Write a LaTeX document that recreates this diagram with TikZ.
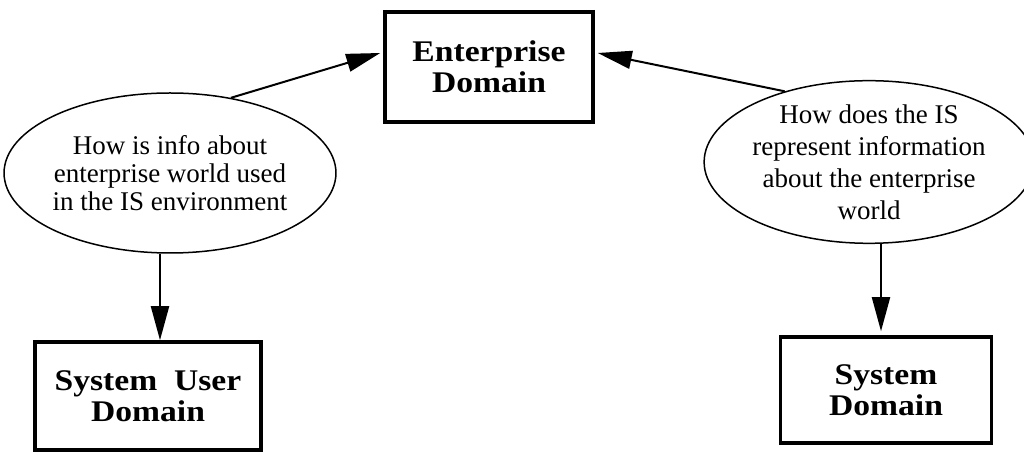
\documentclass[tikz,border=0pt]{standalone}
\usepackage{fontspec}
\setmainfont{Liberation Serif}
\newfontfamily\boxfont[FakeStretch=1.12]{Liberation Serif}
\usetikzlibrary{arrows.meta,shapes.geometric}
\begin{document}
\begin{tikzpicture}[x=1pt,y=1pt,
  dombox/.style={draw,line width=3.5pt,inner sep=0pt,align=center,
    font=\boxfont\bfseries\fontsize{30}{31}\selectfont},
  qell/.style={draw,ellipse,line width=1.5pt,inner sep=0pt,align=center,
    font=\fontsize{27}{28}\selectfont},
  arr/.style={line width=2pt,-{Triangle[length=34pt,width=18pt]}}]
\useasboundingbox (0,0) rectangle (1024,452);
\node[dombox,minimum width=208pt,minimum height=110pt] (ent) at (489,385) {Enterprise\\Domain};
\node[dombox,minimum width=226pt,minimum height=108pt] (su) at (148,56) {System\ \ User\\Domain};
\node[dombox,minimum width=211pt,minimum height=106pt] (sd) at (886,62) {System\\Domain};
\node[qell,minimum width=320pt,minimum height=160pt] (le) at (170,279)
  {How is info about\\enterprise world used\\in the IS environment};
\node[qell,minimum width=310pt,minimum height=160pt,font=\fontsize{27}{32}\selectfont] (re) at (869,290)
  {How does the IS\\represent information\\about the enterprise\\world};
\draw[arr] (le.51) -- ([yshift=14pt,xshift=-3pt]ent.west);
\draw[arr] (re.140) -- ([yshift=14pt,xshift=3pt]ent.east);
\draw[arr] ([xshift=-10pt]le.south) -- ([xshift=12pt]su.north);
\draw[arr] ([xshift=12pt]re.south) -- ([xshift=-5pt,yshift=4pt]sd.north);
\end{tikzpicture}
\end{document}
